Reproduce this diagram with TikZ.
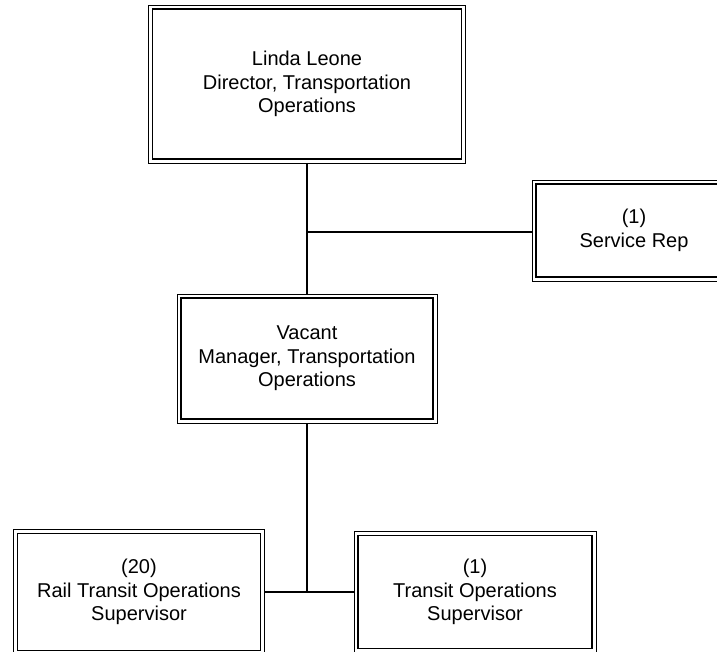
\documentclass[tikz,border=0pt]{standalone}
\usepackage{fontspec}
\setmainfont{Liberation Sans}
\usepackage{tikz}

\begin{document}
\begin{tikzpicture}[x=1pt, y=-1pt,
        post/.style={draw, line width=1.8pt, inner sep=0pt, outer sep=4pt,
            align=center, font=\fontsize{20}{23.5}\selectfont},
        link/.style={line width=1.4pt}]
    \useasboundingbox (0,0) rectangle (717,652);
    % boxes
    \node[post, minimum width=309, minimum height=150] (dir) at (307,84)
        {Linda Leone\\Director, Transportation\\Operations};
    \node[post, minimum width=196, minimum height=93] (rep) at (634,230.5)
        {(1)\\Service Rep};
    \node[post, minimum width=252, minimum height=121] (mgr) at (307,358.5)
        {Vacant\\Manager, Transportation\\Operations};
    \node[post, minimum width=243, minimum height=117] (rail) at (139,592)
        {(20)\\Rail Transit Operations\\Supervisor};
    \node[post, minimum width=234, minimum height=113] (tos) at (475,592)
        {(1)\\Transit Operations\\Supervisor};
    % outer frames
    \foreach \n in {dir, rep, mgr, rail, tos}
        \draw[line width=0.9pt] (\n.north west) rectangle (\n.south east);
    % lines
    \coordinate (j1) at (307,232);
    \coordinate (j2) at (307,592);
    \draw[link] (dir) -- (mgr);
    \draw[link] (j1) -- (rep.west |- j1);
    \draw[link] (mgr) -- (j2);
    \draw[link] (rail.east) -- (tos.west);
\end{tikzpicture}
\end{document}
